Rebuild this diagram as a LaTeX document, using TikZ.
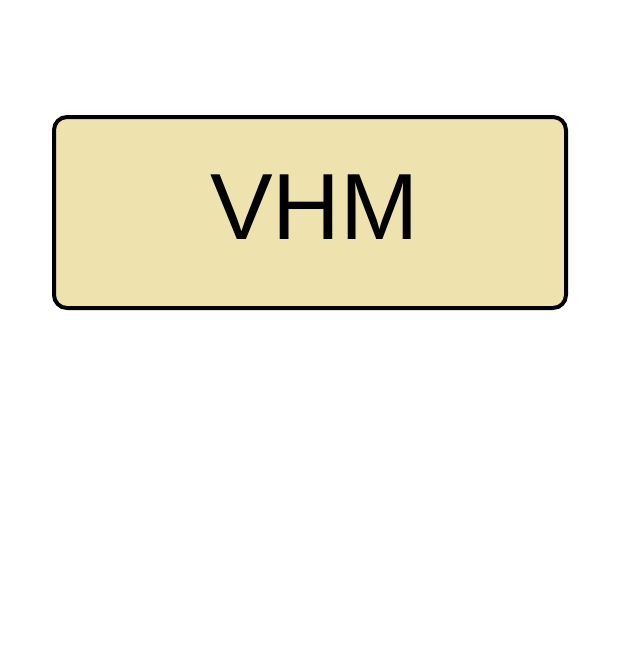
\documentclass[tikz,border=0pt]{standalone}
\usepackage{fontspec}
\setmainfont{Liberation Sans}
\usetikzlibrary{positioning}
\definecolor{vhmfill}{RGB}{238,227,175}

\begin{document}
\begin{tikzpicture}[x=1pt, y=-1pt,
    vhmbox/.style={draw=black, line width=4pt, rounded corners=13pt, fill=vhmfill,
        minimum width=512pt, minimum height=191pt, inner sep=0pt},
    vhmtext/.style={inner sep=0pt, font=\fontsize{94}{94}\selectfont}]
% page
\useasboundingbox (0,0) rectangle (621,649);
% box
\node[vhmbox] (vhm) at (310,212.5) {};
\node[vhmtext] (vhmlabel) at (314.5,207.5) {VHM};
\end{tikzpicture}
\end{document}
